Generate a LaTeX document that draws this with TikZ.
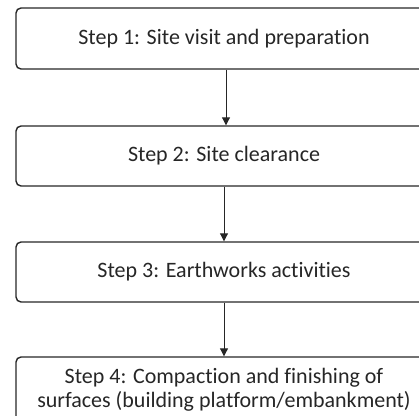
\documentclass[tikz,border=0pt]{standalone}
\usepackage{fontspec}
\setmainfont{Carlito}[Ligatures={NoCommon,NoRequired,NoContextual}]
\usetikzlibrary{arrows.meta}
\newcommand\tinolig{t\kern0pt i}
\begin{document}
\begin{tikzpicture}[x=1pt,y=1pt,
  stepbox/.style={draw=black!85, line width=1.4pt, rounded corners=5pt,
    minimum width=416pt, inner sep=0pt, align=center,
    font=\fontsize{22}{24}\selectfont, text=black!85},
  arr/.style={draw=black!85, line width=1pt, -{Triangle[width=8pt,length=8pt]}}]
\useasboundingbox (0,0) rectangle (419,415);
\clip (0,0) rectangle (419,415);
\node[stepbox, minimum height=61pt] (b1) at (224,376.5) {Step 1: Site visit and prepara\tinolig on};
\node[stepbox, minimum height=60pt] (b2) at (224,259) {Step 2: Site clearance};
\node[stepbox, minimum height=60pt] (b3) at (224,143) {Step 3: Earthworks ac\tinolig vi\tinolig es};
\node[stepbox, minimum height=66pt] (b4) at (224,25) {Step 4: Compac\tinolig on and finishing of\\surfaces (building platform/embankment)};
\draw[arr] ([xshift=2pt]b1.south) -- ([xshift=2pt]b2.north);
\draw[arr] (b2.south) -- (b3.north);
\draw[arr] (b3.south) -- (b4.north);
\end{tikzpicture}
\end{document}
